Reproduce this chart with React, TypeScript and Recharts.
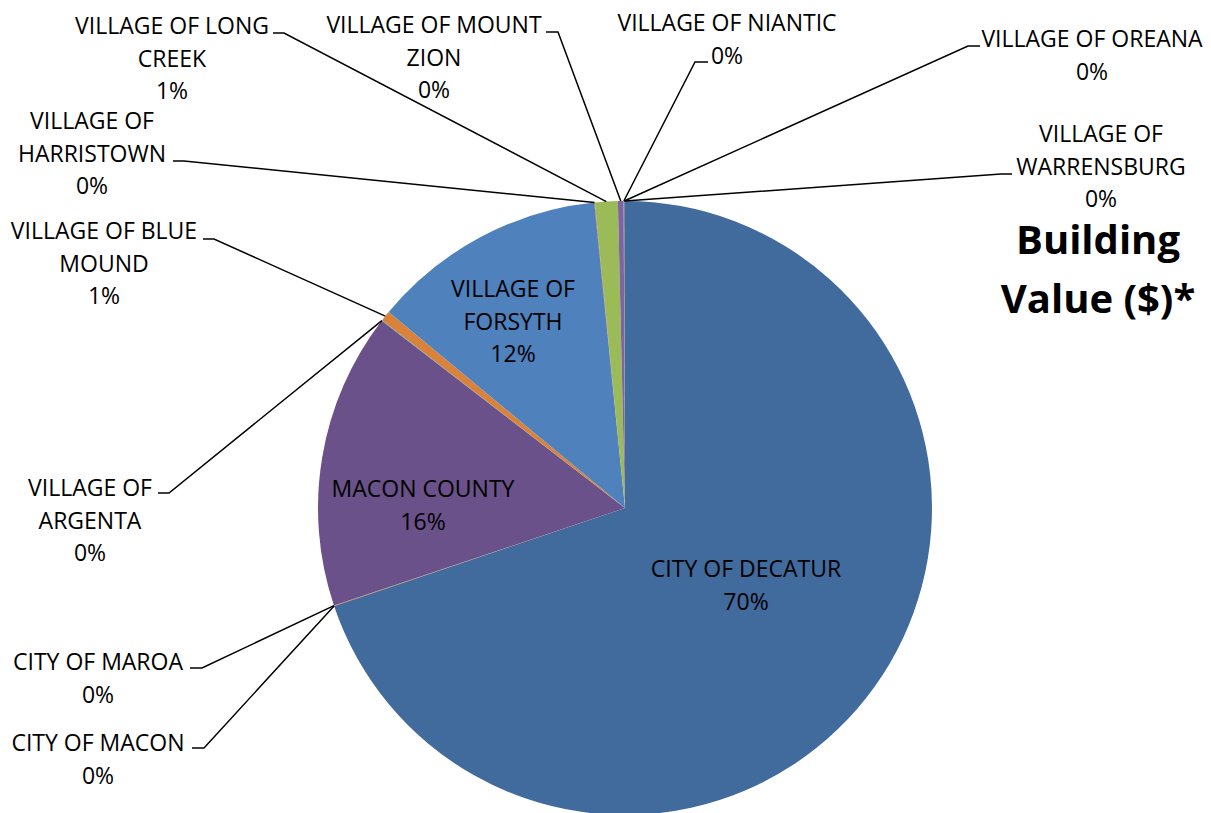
import { PieChart, Pie, Cell } from 'recharts';

// Building value share by jurisdiction, Excel-style pie with outside callouts.

const names = [
  'CITY OF DECATUR', 'CITY OF MACON', 'CITY OF MAROA', 'MACON COUNTY',
  'VILLAGE OF ARGENTA', 'VILLAGE OF BLUE MOUND', 'VILLAGE OF FORSYTH',
  'VILLAGE OF HARRISTOWN', 'VILLAGE OF LONG CREEK', 'VILLAGE OF MOUNT ZION',
  'VILLAGE OF NIANTIC', 'VILLAGE OF OREANA', 'VILLAGE OF WARRENSBURG',
];
// how each label wraps in the original
const labelText = [
  ['CITY OF DECATUR'], ['CITY OF MACON'], ['CITY OF MAROA'], ['MACON COUNTY'],
  ['VILLAGE OF', 'ARGENTA'], ['VILLAGE OF BLUE', 'MOUND'], ['VILLAGE OF', 'FORSYTH'],
  ['VILLAGE OF', 'HARRISTOWN'], ['VILLAGE OF LONG', 'CREEK'], ['VILLAGE OF MOUNT', 'ZION'],
  ['VILLAGE OF NIANTIC'], ['VILLAGE OF OREANA'], ['VILLAGE OF', 'WARRENSBURG'],
];
// share of building value, %
const values = [69.9, 0.02, 0.02, 15.6, 0.03, 0.55, 12.4, 0.03, 1.2, 0.3, 0.02, 0.02, 0.03];
const colors = [
  '#416a9d', '#a9443f', '#8aa64f', '#6a5189', '#3f97ae', '#d9823b', '#4f81bd',
  '#c0504d', '#9bbb59', '#8064a2', '#4bacc6', '#f79646', '#2c4d75',
];
const title = ['Building', 'Value ($)*'];

// label placement: text centre x, first line y, optional leader hook [xNearText, xFar, y]
const LAYOUT: { x: number; y: number; hook?: [number, number, number] }[] = [
  { x: 746, y: 568 },
  { x: 98, y: 742, hook: [192, 204, 748] },
  { x: 98, y: 661, hook: [190, 202, 668] },
  { x: 423, y: 488 },
  { x: 90, y: 487, hook: [158, 169, 493] },
  { x: 104, y: 230, hook: [203, 214, 239] },
  { x: 513, y: 288 },
  { x: 92, y: 120, hook: [173, 184, 161] },
  { x: 172, y: 25, hook: [273, 284, 33] },
  { x: 434, y: 24, hook: [546, 558, 32] },
  { x: 727, y: 22, hook: [708, 695, 62] },
  { x: 1092, y: 38, hook: [980, 968, 46] },
  { x: 1101, y: 133, hook: [1012, 1001, 174] },
];

const FONT = "'Open Sans', sans-serif";
const RAD = Math.PI / 180;
const data = names.map((name, i) => ({ name, value: values[i] }));

function Callout(props: any) {
  const { cx, cy, midAngle, outerRadius, percent, index } = props;
  const pos = LAYOUT[index];
  const lines = [...labelText[index], `${Math.round(percent * 100)}%`];
  let leader = null;
  if (pos.hook) {
    const ax = cx + outerRadius * Math.cos(-midAngle * RAD);
    const ay = cy + outerRadius * Math.sin(-midAngle * RAD);
    const [near, far, hy] = pos.hook;
    leader = <polyline points={`${ax},${ay} ${far},${hy} ${near},${hy}`} fill="none" stroke="#000" strokeWidth={1.5} />;
  }
  return (
    <g>
      {leader}
      {lines.map((t, k) => (
        <text key={k} x={pos.x} y={pos.y + k * 32.5} textAnchor="middle" dominantBaseline="central"
          fontFamily={FONT} fontSize={23} fill="#000">{t}</text>
      ))}
    </g>
  );
}

export default function App() {
  return (
    <div style={{ width: 1211, height: 813, background: '#fff' }}>
      <style>{'body{margin:0}'}</style>
      <PieChart width={1211} height={813} margin={{ top: 0, right: 0, bottom: 0, left: 0 }}>
        <Pie data={data} dataKey="value" nameKey="name" cx={625} cy={508} outerRadius={307}
          startAngle={90} endAngle={-270} stroke="none" label={Callout} labelLine={false}
          isAnimationActive={false}>
          {data.map((d, i) => <Cell key={d.name} fill={colors[i]} />)}
        </Pie>
        {title.map((t, k) => (
          <text key={t} x={1098} y={238 + k * 59} textAnchor="middle" dominantBaseline="central"
            fontFamily={FONT} fontWeight={700} fontSize={40} fill="#000">{t}</text>
        ))}
      </PieChart>
    </div>
  );
}
